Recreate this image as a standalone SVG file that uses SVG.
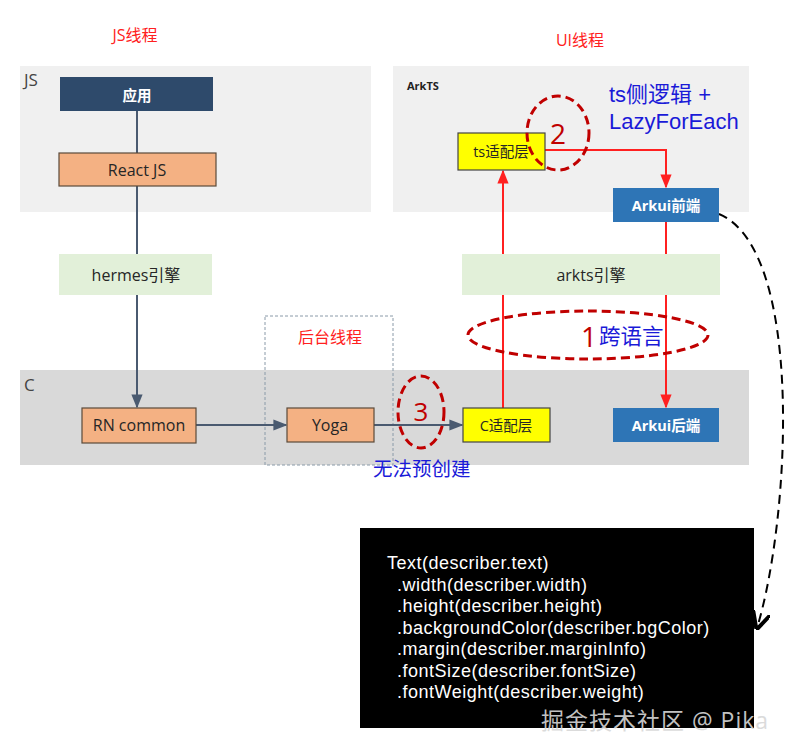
<svg xmlns="http://www.w3.org/2000/svg" width="800" height="752" viewBox="0 0 800 752">
<defs>
<style>
text{font-family:"Open Sans","Noto Sans","Noto Sans CJK SC",sans-serif;}
.lbl{font-size:16px;fill:#262626;text-anchor:middle;dominant-baseline:central;}
.wlbl{font-size:14.5px;fill:#fff;font-weight:bold;text-anchor:middle;dominant-baseline:central;}
.red{fill:#ff2020;font-size:16px;text-anchor:middle;}
.blue{fill:#1a1ad8;font-size:21.5px;}
.blue2{fill:#1a1ad8;font-size:22px;font-family:"Liberation Sans","Noto Sans CJK SC",sans-serif;}
.code{fill:#fff;font-size:18px;font-family:"Liberation Sans",Arial,sans-serif;letter-spacing:0.5px;}
.orange{fill:#f4b183;stroke:#5a4a3a;stroke-width:1.2;}
.yellow{fill:#ffff00;stroke:#444;stroke-width:1.2;}
.green{fill:#e2f0d9;}
.ell{fill:none;stroke:#c00000;stroke-width:3;stroke-dasharray:9 5;}
</style>
<marker id="ag" viewBox="0 0 10 10" refX="9" refY="5" markerWidth="7" markerHeight="7" orient="auto"><path d="M0,1 L10,5 L0,9 z" fill="#4a5a70"/></marker>
<marker id="ar" viewBox="0 0 10 10" refX="9" refY="5" markerWidth="7" markerHeight="7" orient="auto"><path d="M0,1 L10,5 L0,9 z" fill="#ff2020"/></marker>
<marker id="ak" viewBox="0 0 10 10" refX="9" refY="5" markerWidth="9" markerHeight="9" orient="auto"><path d="M0,0 L10,5 L0,10" fill="none" stroke="#000" stroke-width="2.2"/></marker>
</defs>
<rect width="800" height="752" fill="#fff"/>
<g id="panels">
<rect x="20" y="66" width="351" height="146" fill="#f0f0f0"/>
<rect x="393" y="66" width="356" height="146" fill="#f0f0f0"/>
<rect x="20" y="370" width="729" height="95" fill="#d9d9d9"/>
<rect x="265" y="316" width="128" height="149" fill="none" stroke="#8a9aa8" stroke-width="1" stroke-dasharray="3 2"/>
<text x="24" y="86" style="font-size:17px;fill:#444">JS</text>
<text x="407" y="90" style="font-size:11px;fill:#222;font-weight:bold">ArkTS</text>
<text x="24" y="391" style="font-size:17px;fill:#444">C</text>
<text class="red" x="135" y="41">JS线程</text>
<text class="red" x="580" y="46">UI线程</text>
<text class="red" x="330" y="343">后台线程</text>
</g>
<g id="connectors" fill="none">
<line x1="137" y1="111" x2="137" y2="153" stroke="#4a5a70" stroke-width="2"/>
<line x1="137" y1="186" x2="137" y2="254" stroke="#4a5a70" stroke-width="2"/>
<line x1="137" y1="295" x2="137" y2="407" stroke="#4a5a70" stroke-width="2" marker-end="url(#ag)"/>
<line x1="196" y1="425" x2="286" y2="425" stroke="#4a5a70" stroke-width="2" marker-end="url(#ag)"/>
<line x1="374" y1="425" x2="462" y2="425" stroke="#4a5a70" stroke-width="2" marker-end="url(#ag)"/>
<line x1="503" y1="408" x2="503" y2="171" stroke="#ff2020" stroke-width="2" marker-end="url(#ar)"/>
<polyline points="545,150 666,150 666,187" stroke="#ff2020" stroke-width="2" marker-end="url(#ar)"/>
<line x1="666" y1="222" x2="666" y2="407" stroke="#ff2020" stroke-width="2" marker-end="url(#ar)"/>
<path d="M719,214 C805,250 790,520 757,628" stroke="#000" stroke-width="2" stroke-dasharray="9 6" marker-end="url(#ak)"/>
</g>
<g id="n-app"><rect x="60" y="77" width="153" height="34" fill="#2e4a6b"/><text class="wlbl" x="137" y="95">应用</text></g>
<g id="n-react"><rect class="orange" x="59" y="153" width="157" height="33"/><text class="lbl" x="137" y="170">React JS</text></g>
<g id="n-hermes"><rect class="green" x="59" y="254" width="153" height="41"/><text class="lbl" x="136" y="275">hermes引擎</text></g>
<g id="n-rn"><rect class="orange" x="82" y="408" width="114" height="35"/><text class="lbl" x="139" y="425">RN common</text></g>
<g id="n-yoga"><rect class="orange" x="287" y="408" width="87" height="34"/><text class="lbl" x="330" y="425">Yoga</text></g>
<g id="n-cadapt"><rect class="yellow" x="463" y="408" width="87" height="34"/><text class="lbl" x="506" y="425" style="font-size:14.5px">C适配层</text></g>
<g id="n-tsadapt"><rect class="yellow" x="458" y="133" width="87" height="37"/><text class="lbl" x="501" y="151" style="font-size:14.5px">ts适配层</text></g>
<g id="n-front"><rect x="613" y="188" width="106" height="34" fill="#2e75b6"/><text class="wlbl" x="666" y="205">Arkui前端</text></g>
<g id="n-arkts"><rect class="green" x="462" y="254" width="258" height="41"/><text class="lbl" x="591" y="275">arkts引擎</text></g>
<g id="n-back"><rect x="613" y="408" width="106" height="34" fill="#2e75b6"/><text class="wlbl" x="666" y="425">Arkui后端</text></g>
<g id="notes">
<ellipse class="ell" cx="558" cy="133" rx="31" ry="37"/>
<text x="558" y="144" style="font-size:28px;fill:#c00000;text-anchor:middle">2</text>
<text class="blue2" x="609" y="102">ts侧逻辑 +</text>
<text class="blue2" x="609" y="129">LazyForEach</text>
<ellipse class="ell" cx="588" cy="335" rx="120" ry="24"/>
<text x="589" y="347" style="font-size:28px;fill:#c00000;text-anchor:middle">1</text>
<text class="blue" x="599" y="344">跨语言</text>
<ellipse class="ell" cx="421" cy="412" rx="23" ry="36"/>
<text x="421" y="421" style="font-size:26px;fill:#c00000;text-anchor:middle">3</text>
<text class="blue" x="373" y="476" style="font-size:19.5px">无法预创建</text>
</g>
<g id="n-code">
<rect x="360" y="528" width="394" height="200" fill="#000"/>
<text class="code" x="387" y="569">Text(describer.text)</text>
<text class="code" x="397" y="591">.width(describer.width)</text>
<text class="code" x="397" y="612">.height(describer.height)</text>
<text class="code" x="397" y="634">.backgroundColor(describer.bgColor)</text>
<text class="code" x="397" y="655">.margin(describer.marginInfo)</text>
<text class="code" x="397" y="677">.fontSize(describer.fontSize)</text>
<text class="code" x="397" y="698">.fontWeight(describer.weight)</text>
</g>
<text x="541" y="729" style="font-size:23px;fill:#d8d8d8;opacity:0.9;letter-spacing:1px">掘金技术社区 @ Pika</text>
</svg>
